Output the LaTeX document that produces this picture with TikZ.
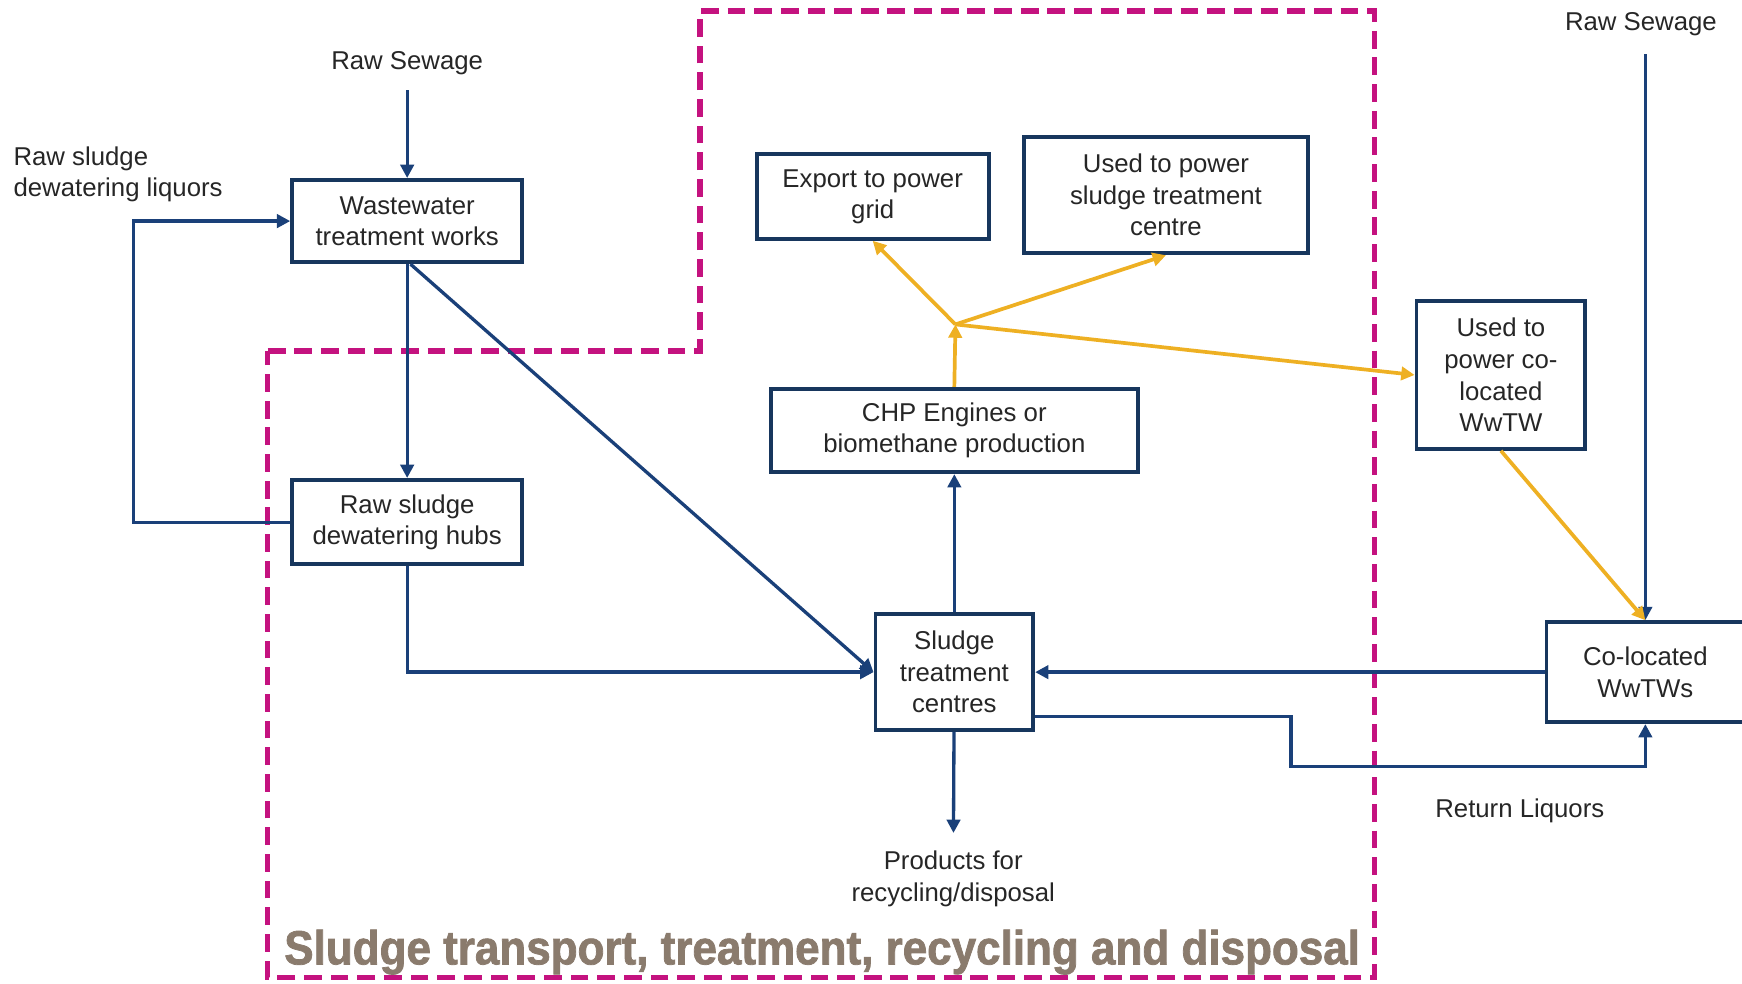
\documentclass[tikz,border=0pt]{standalone}
\usepackage{fontspec}
\setmainfont{Liberation Sans}
\newfontfamily\titlefont[FakeStretch = 0.92, BoldFeatures = {FakeBold = 1.6}]{Liberation Sans}
\usepackage{xcolor}
\usepackage{tikz}
\usetikzlibrary{arrows.meta}
\definecolor{boxblue}{HTML}{17365D}
\definecolor{lineblue}{HTML}{1A4079}
\definecolor{gold}{HTML}{EEB023}
\definecolor{zonepink}{HTML}{C4127F}
\definecolor{titlebrown}{HTML}{8A7B6D}
\definecolor{textgrey}{HTML}{262626}
\tikzset{
box/.style = { rectangle, draw = boxblue, line width = 2pt, fill = white, align = center, text = textgrey, inner sep = 0pt, font = \fontsize{13.2}{16.2}\selectfont },
note/.style = { align = center, text = textgrey, font = \fontsize{13.2}{16.2}\selectfont },
flow/.style = { draw = lineblue, line width = 1.7pt, -{Triangle[length = 2.4mm, width = 2.4mm]} },
power/.style = { draw = gold, line width = 1.9pt, -{Triangle[length = 2.4mm, width = 2.4mm]} },
zone/.style = { draw = zonepink, line width = 2.8pt, dash pattern = on 3.2mm off 1.6mm },
heading/.style = { text = titlebrown, font = \titlefont\bfseries\fontsize{24.5}{28}\selectfont },
}

\begin{document}
\begin{tikzpicture}[x = 0.02cm, y = -0.02cm]
    \useasboundingbox (0, 0) rectangle (1568, 885);
    % sludge side boundary
    \draw[zone] (241, 316) -- (630, 316) -- (630, 10) -- (1237, 10) -- (1237, 880) -- (241, 880) -- cycle;
    \node[heading] (title) at (740, 857) {Sludge transport, treatment, recycling and disposal};
    % boxes
    \node[box, minimum width = 4.14cm, minimum height = 1.48cm] (wtw) at (366.5, 199) {Wastewater\\treatment works};
    \node[box, minimum width = 4.14cm, minimum height = 1.52cm] (hubs) at (366.5, 470) {Raw sludge\\dewatering hubs};
    \node[box, minimum width = 2.84cm, minimum height = 2.08cm] (stc) at (859, 605) {Sludge\\treatment\\centres};
    \node[box, minimum width = 6.6cm, minimum height = 1.5cm] (chp) at (859, 387.5) {CHP Engines or\\biomethane production};
    \node[box, minimum width = 4.18cm, minimum height = 1.52cm] (grid) at (785.5, 177) {Export to power\\grid};
    \node[box, minimum width = 5.1cm, minimum height = 2.1cm] (powerstc) at (1049.5, 175.5) {Used to power\\sludge treatment\\centre};
    \node[box, minimum width = 3.04cm, minimum height = 2.66cm] (powerco) at (1351, 337.5) {Used to\\power co-\\located\\WwTW};
    \node[box, minimum width = 3.56cm, minimum height = 1.8cm] (colocated) at (1481, 605) {Co-located\\WwTWs};
    % free texts
    \node[note] (sewageL) at (366.5, 57) {Raw Sewage};
    \node[note] (sewageR) at (1477, 22) {Raw Sewage};
    \node[note, align = left, anchor = west] (liquors) at (6, 157) {Raw sludge\\dewatering liquors};
    \node[note] (products) at (858, 791) {Products for\\recycling/disposal};
    \node[note] (returnliq) at (1368, 730) {Return Liquors};
    \coordinate (split) at (860, 292);
    \coordinate (dip) at (1162, 690);
    % sludge flows
    \draw[flow, shorten < = 1.5mm] (sewageL) -- (wtw);
    \draw[flow] (hubs.west) -- ++(-141, 0) |- (wtw.west);
    \draw[flow] (wtw) -- (hubs);
    \draw[flow] ([xshift = 0.06cm]wtw.south) -- (stc.west);
    \draw[flow] (hubs.south) |- (stc.west);
    \draw[flow] (stc) -- (chp);
    \draw[flow, shorten > = 2mm] (stc) -- (products);
    \draw[flow] (colocated.west) -- (stc.east);
    \draw[flow] ([yshift = -0.8cm]stc.east) -| (dip) -| (colocated.south);
    \draw[flow, shorten < = 2mm] (sewageR.south -| colocated.north) -- (colocated.north);
    % energy
    \draw[power] (chp.north) -- (split);
    \draw[power] (split) -- (grid.south);
    \draw[power] (split) -- (powerstc.south);
    \draw[power] (split) -- (powerco.west);
    \draw[power] (powerco.south) -- (colocated.north);
\end{tikzpicture}
\end{document}
